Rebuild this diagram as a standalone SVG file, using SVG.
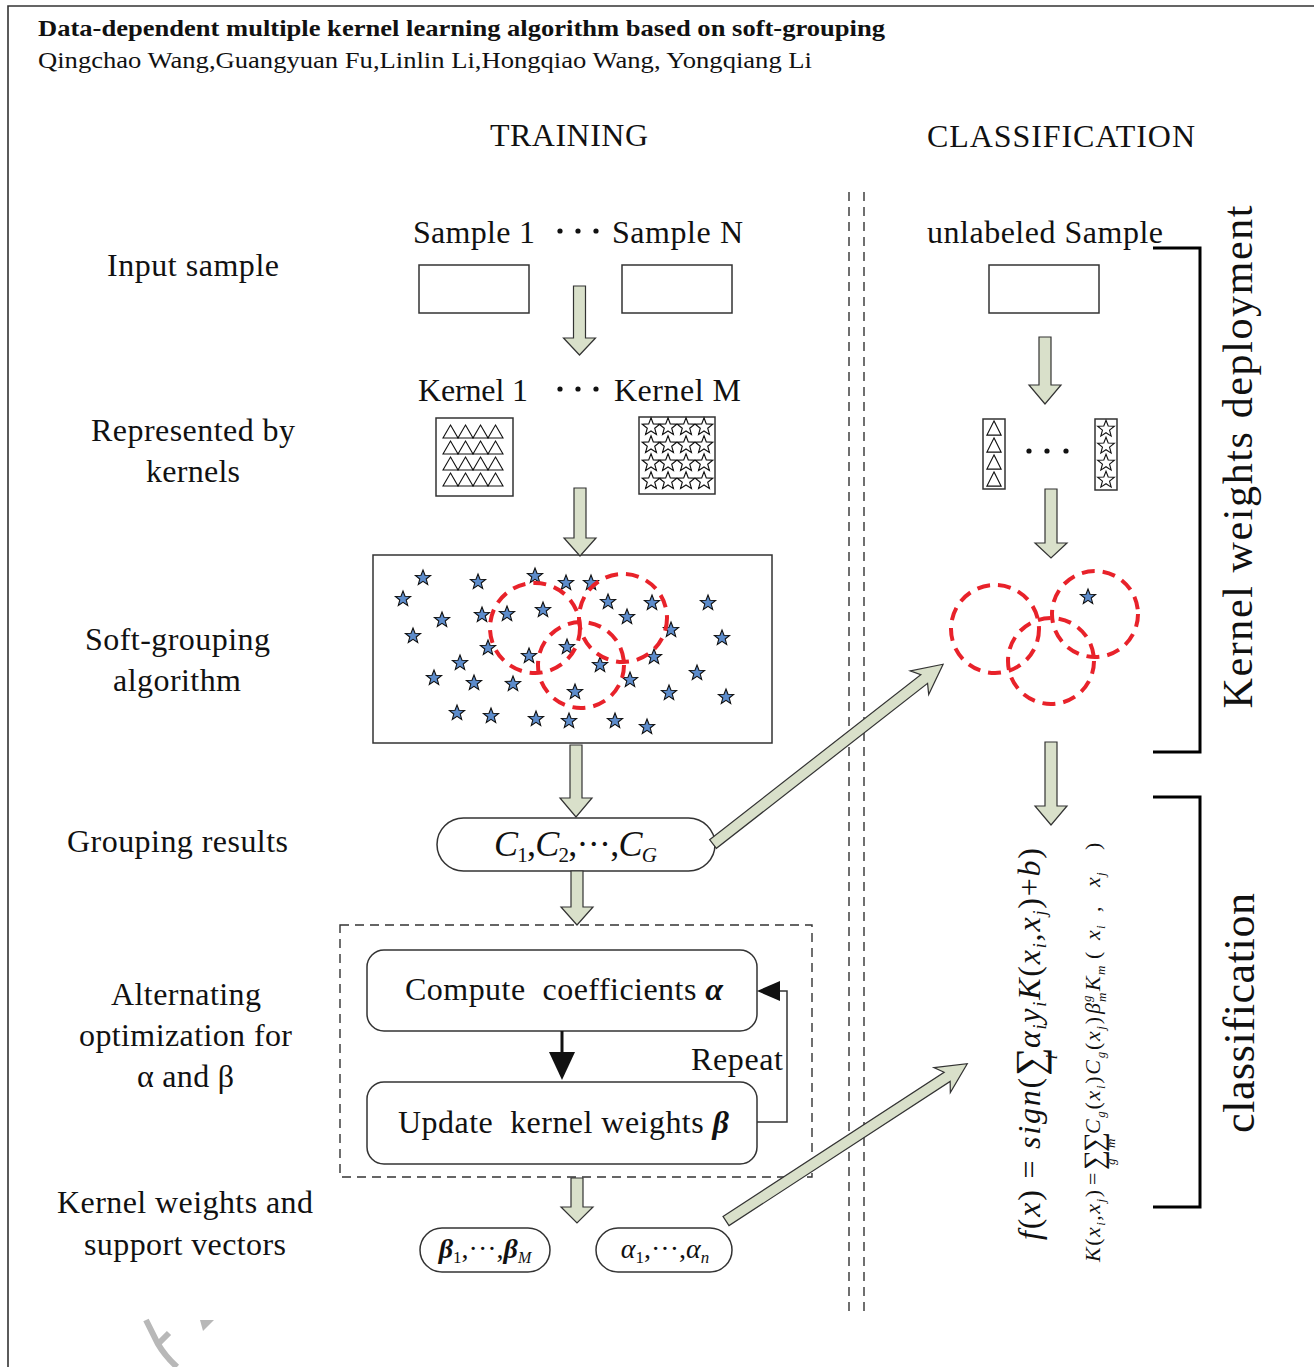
<svg xmlns="http://www.w3.org/2000/svg" xmlns:xlink="http://www.w3.org/1999/xlink" width="1315" height="1367" viewBox="0 0 1315 1367" font-family="'Liberation Serif', 'Times New Roman', Times, serif">
<style>
text{font-family:'Liberation Serif','Times New Roman',Times,serif;fill:#111;}
.lbl{font-size:32px;}
.box{fill:#fff;stroke:#333;stroke-width:1.5;}
.garrow{fill:#d9e0ca;stroke:#333;stroke-width:1.2;stroke-linejoin:miter;}
.dash{fill:none;stroke:#333;stroke-width:1.4;stroke-dasharray:9 6;}
.red{fill:none;stroke:#e8222a;stroke-width:4;stroke-dasharray:13 8;}
.bstar{fill:#5d8ccb;stroke:#111;stroke-width:1.1;}
.wstar{fill:#fff;stroke:#111;stroke-width:1;}
.tri{fill:#fff;stroke:#111;stroke-width:1.1;}
.brk{fill:none;stroke:#000;stroke-width:3;}
.it{font-style:italic;}
.bi{font-style:italic;font-weight:bold;}
.f2{font-size:22px;font-style:italic;}
.u2{font-size:22px;}
.s2{font-size:13px;font-style:italic;}
</style>
<defs>
<path id="star" d="M0,-8 L2,-2.75 L7.61,-2.47 L3.23,1.05 L4.7,6.47 L0,3.4 L-4.7,6.47 L-3.23,1.05 L-7.61,-2.47 L-2,-2.75 Z"/>
<path id="tri" d="M0,-6.5 L7.5,6.5 L-7.5,6.5 Z"/>
</defs>
<rect x="0" y="0" width="1315" height="1367" fill="#fff"/>
<!-- frame -->
<path d="M8,1367 L8,6 L1314,6" fill="none" stroke="#333" stroke-width="1.6"/>
<!-- header -->
<g id="title">
<text x="38" y="36" font-size="24" font-weight="bold" textLength="847" lengthAdjust="spacingAndGlyphs">Data-dependent multiple kernel learning algorithm based on soft-grouping</text>
<text x="38" y="68" font-size="23" textLength="774" lengthAdjust="spacingAndGlyphs">Qingchao Wang,Guangyuan Fu,Linlin Li,Hongqiao Wang, Yongqiang Li</text>
</g>
<g id="headings">
<text class="lbl" x="490" y="146" textLength="158">TRAINING</text>
<text class="lbl" x="927" y="147" textLength="268">CLASSIFICATION</text>
</g>
<!-- separator -->
<g id="separator">
<line class="dash" x1="849" y1="192" x2="849" y2="1315"/>
<line class="dash" x1="864" y1="192" x2="864" y2="1315"/>
</g>
<!-- left labels -->
<g id="left-labels">
<text class="lbl" x="107" y="276" textLength="172">Input sample</text>
<text class="lbl" x="91" y="441" textLength="204">Represented by</text>
<text class="lbl" x="146" y="482" textLength="94">kernels</text>
<text class="lbl" x="85" y="650" textLength="185">Soft-grouping</text>
<text class="lbl" x="113" y="691" textLength="128">algorithm</text>
<text class="lbl" x="67" y="852" textLength="221">Grouping results</text>
<text class="lbl" x="111" y="1005" textLength="150">Alternating</text>
<text class="lbl" x="79" y="1046" textLength="213">optimization for</text>
<text class="lbl" x="137" y="1087" textLength="97">α and β</text>
<text class="lbl" x="57" y="1213" textLength="256">Kernel weights and</text>
<text class="lbl" x="84" y="1255" textLength="202">support vectors</text>
</g>
<!-- training: samples -->
<g id="samples">
<text class="lbl" x="413" y="243" textLength="122">Sample 1</text>
<text class="lbl" x="612" y="243" textLength="131">Sample N</text>
<circle cx="560" cy="231" r="2.6" fill="#111"/><circle cx="578" cy="231" r="2.6" fill="#111"/><circle cx="596" cy="231" r="2.6" fill="#111"/>
<rect class="box" x="419" y="265" width="110" height="48"/>
<rect class="box" x="622" y="265" width="110" height="48"/>
</g>
<g id="kernels">
<text class="lbl" x="418" y="401" textLength="110">Kernel 1</text>
<text class="lbl" x="614" y="401" textLength="127">Kernel M</text>
<circle cx="560" cy="389" r="2.6" fill="#111"/><circle cx="578" cy="389" r="2.6" fill="#111"/><circle cx="596" cy="389" r="2.6" fill="#111"/>
<rect class="box" x="436" y="418" width="77" height="78"/>
<g class="tri">
<use xlink:href="#tri" x="450.5" y="431.5"/><use xlink:href="#tri" x="465.5" y="431.5"/><use xlink:href="#tri" x="480.5" y="431.5"/><use xlink:href="#tri" x="495.5" y="431.5"/>
<use xlink:href="#tri" x="450.5" y="447.5"/><use xlink:href="#tri" x="465.5" y="447.5"/><use xlink:href="#tri" x="480.5" y="447.5"/><use xlink:href="#tri" x="495.5" y="447.5"/>
<use xlink:href="#tri" x="450.5" y="463.5"/><use xlink:href="#tri" x="465.5" y="463.5"/><use xlink:href="#tri" x="480.5" y="463.5"/><use xlink:href="#tri" x="495.5" y="463.5"/>
<use xlink:href="#tri" x="450.5" y="479.5"/><use xlink:href="#tri" x="465.5" y="479.5"/><use xlink:href="#tri" x="480.5" y="479.5"/><use xlink:href="#tri" x="495.5" y="479.5"/>
</g>
<rect class="box" x="639" y="417" width="76" height="77"/>
<g class="wstar">
<use xlink:href="#star" transform="translate(651,427) scale(1.15)"/><use xlink:href="#star" transform="translate(668,427) scale(1.15)"/><use xlink:href="#star" transform="translate(686,427) scale(1.15)"/><use xlink:href="#star" transform="translate(704,427) scale(1.15)"/>
<use xlink:href="#star" transform="translate(651,445) scale(1.15)"/><use xlink:href="#star" transform="translate(668,445) scale(1.15)"/><use xlink:href="#star" transform="translate(686,445) scale(1.15)"/><use xlink:href="#star" transform="translate(704,445) scale(1.15)"/>
<use xlink:href="#star" transform="translate(651,463) scale(1.15)"/><use xlink:href="#star" transform="translate(668,463) scale(1.15)"/><use xlink:href="#star" transform="translate(686,463) scale(1.15)"/><use xlink:href="#star" transform="translate(704,463) scale(1.15)"/>
<use xlink:href="#star" transform="translate(651,481) scale(1.15)"/><use xlink:href="#star" transform="translate(668,481) scale(1.15)"/><use xlink:href="#star" transform="translate(686,481) scale(1.15)"/><use xlink:href="#star" transform="translate(704,481) scale(1.15)"/>
</g>
</g>
<!-- scatter -->
<g id="soft-grouping">
<rect class="box" x="373" y="555" width="399" height="188"/>
<g class="bstar">
<use xlink:href="#star" x="423" y="578"/><use xlink:href="#star" x="478" y="582"/><use xlink:href="#star" x="535" y="576"/><use xlink:href="#star" x="566" y="583"/><use xlink:href="#star" x="591" y="583"/>
<use xlink:href="#star" x="403" y="599"/><use xlink:href="#star" x="442" y="620"/><use xlink:href="#star" x="482" y="615"/><use xlink:href="#star" x="507" y="614"/><use xlink:href="#star" x="543" y="610"/>
<use xlink:href="#star" x="608" y="602"/><use xlink:href="#star" x="627" y="617"/><use xlink:href="#star" x="652" y="603"/><use xlink:href="#star" x="708" y="603"/><use xlink:href="#star" x="413" y="636"/>
<use xlink:href="#star" x="488" y="648"/><use xlink:href="#star" x="529" y="656"/><use xlink:href="#star" x="567" y="647"/><use xlink:href="#star" x="600" y="665"/><use xlink:href="#star" x="654" y="657"/>
<use xlink:href="#star" x="671" y="630"/><use xlink:href="#star" x="722" y="638"/><use xlink:href="#star" x="460" y="663"/><use xlink:href="#star" x="434" y="678"/><use xlink:href="#star" x="474" y="683"/>
<use xlink:href="#star" x="513" y="684"/><use xlink:href="#star" x="575" y="692"/><use xlink:href="#star" x="630" y="680"/><use xlink:href="#star" x="669" y="693"/><use xlink:href="#star" x="697" y="673"/>
<use xlink:href="#star" x="726" y="697"/><use xlink:href="#star" x="457" y="713"/><use xlink:href="#star" x="491" y="716"/><use xlink:href="#star" x="536" y="719"/><use xlink:href="#star" x="569" y="721"/>
<use xlink:href="#star" x="615" y="721"/><use xlink:href="#star" x="647" y="727"/>
</g>
<circle class="red" cx="535" cy="628" r="45"/>
<circle class="red" cx="623" cy="618" r="44"/>
<circle class="red" cx="581" cy="665" r="43"/>
</g>
<!-- grouping results -->
<g id="grouping-results">
<rect class="box" x="437" y="818" width="278" height="53" rx="26.5"/>
<text x="494" y="856" font-size="36" textLength="163"><tspan class="it">C</tspan><tspan font-size="21" dy="6">1</tspan><tspan dy="-6">,</tspan><tspan class="it">C</tspan><tspan font-size="21" dy="6">2</tspan><tspan dy="-6">,···,</tspan><tspan class="it">C</tspan><tspan class="it" font-size="21" dy="6">G</tspan></text>
</g>
<!-- alternating optimization -->
<g id="alternating">
<rect class="dash" x="340" y="925" width="472" height="252"/>
<g id="compute">
<rect class="box" x="367" y="950" width="390" height="81" rx="17"/>
<text class="lbl" x="405" y="1000" textLength="318">Compute&#160; coefficients <tspan class="bi">α</tspan></text>
</g>
<g id="update">
<rect class="box" x="367" y="1082" width="390" height="82" rx="17"/>
<text class="lbl" x="398" y="1133" textLength="331">Update&#160; kernel weights <tspan class="bi">β</tspan></text>
</g>
<text class="lbl" x="691" y="1070" textLength="92">Repeat</text>
</g>
<!-- outputs -->
<g id="beta-pill">
<rect class="box" x="420" y="1228" width="130" height="44" rx="22"/>
<text x="485" y="1258" font-size="28" text-anchor="middle"><tspan class="bi">β</tspan><tspan font-size="17" dy="5">1</tspan><tspan dy="-5">,···,</tspan><tspan class="bi">β</tspan><tspan class="it" font-size="16" dy="5">M</tspan></text>
</g>
<g id="alpha-pill">
<rect class="box" x="596" y="1228" width="136" height="44" rx="22"/>
<text x="665" y="1258" font-size="28" text-anchor="middle"><tspan class="it">α</tspan><tspan font-size="17" dy="5">1</tspan><tspan dy="-5">,···,</tspan><tspan class="it">α</tspan><tspan class="it" font-size="17" dy="5">n</tspan></text>
</g>
<!-- classification side -->
<g id="unlabeled">
<text class="lbl" x="927" y="243" textLength="236">unlabeled Sample</text>
<rect class="box" x="989" y="265" width="110" height="48"/>
</g>
<g id="kernel-strips">
<rect class="box" x="983" y="419" width="22" height="70"/>
<g class="tri">
<use xlink:href="#tri" transform="translate(994,428) scale(0.95,1.1)"/><use xlink:href="#tri" transform="translate(994,445) scale(0.95,1.1)"/><use xlink:href="#tri" transform="translate(994,462) scale(0.95,1.1)"/><use xlink:href="#tri" transform="translate(994,479) scale(0.95,1.1)"/>
</g>
<circle cx="1029" cy="451" r="2.6" fill="#111"/><circle cx="1047" cy="451" r="2.6" fill="#111"/><circle cx="1066" cy="451" r="2.6" fill="#111"/>
<rect class="box" x="1095" y="419" width="22" height="71"/>
<g class="wstar">
<use xlink:href="#star" transform="translate(1106,429) scale(1.1)"/><use xlink:href="#star" transform="translate(1106,446) scale(1.1)"/><use xlink:href="#star" transform="translate(1106,463) scale(1.1)"/><use xlink:href="#star" transform="translate(1106,480) scale(1.1)"/>
</g>
</g>
<g id="groups-right">
<circle class="red" cx="995" cy="629" r="44"/>
<circle class="red" cx="1095" cy="614" r="43"/>
<circle class="red" cx="1051" cy="661" r="43"/>
<use class="bstar" xlink:href="#star" x="1088" y="597"/>
</g>
<g id="formulas">
<text transform="translate(1040,1240) rotate(-90)" font-size="32" textLength="392"><tspan class="it">f</tspan>(<tspan class="it">x</tspan>) = <tspan class="it">sign</tspan>(<tspan font-size="40" dy="3">∑</tspan><tspan class="it" font-size="17" dx="-14" dy="14">i</tspan><tspan class="it" dx="5" dy="-17">α</tspan><tspan class="it" font-size="18" dy="6">i</tspan><tspan class="it" dy="-6">y</tspan><tspan class="it" font-size="18" dy="6">i</tspan><tspan class="it" dy="-6">K</tspan>(<tspan class="it">x</tspan><tspan class="it" font-size="18" dy="6">i</tspan><tspan dy="-6">,</tspan><tspan class="it">x</tspan><tspan class="it" font-size="18" dy="6">j</tspan><tspan dy="-6">)+</tspan><tspan class="it">b</tspan>)</text>
<g transform="translate(1100,1262) rotate(-90)">
<text x="0" y="0" class="f2" textLength="72">K<tspan font-style="normal">(</tspan>x<tspan class="s2" dy="5">i</tspan><tspan font-style="normal" dy="-5">,</tspan>x<tspan class="s2" dy="5">j</tspan><tspan font-style="normal" dy="-5">)</tspan></text>
<text x="77" y="0" class="u2">=</text>
<text x="92" y="3" font-size="28">∑</text>
<text x="110" y="3" font-size="28">∑</text>
<text x="97" y="15" class="s2">g</text>
<text x="114" y="15" class="s2">m</text>
<text x="128" y="0" class="f2" textLength="117">C<tspan class="s2" dy="5">g</tspan><tspan font-style="normal" dy="-5">(</tspan>x<tspan class="s2" dy="5">i</tspan><tspan font-style="normal" dy="-5">)</tspan>C<tspan class="s2" dy="5">g</tspan><tspan font-style="normal" dy="-5">(</tspan>x<tspan class="s2" dy="5">j</tspan><tspan font-style="normal" dy="-5">)</tspan></text>
<text x="248" y="0" class="f2">β</text>
<text x="260" y="-9" class="s2">g</text>
<text x="260" y="6" class="s2">m</text>
<text x="271" y="0" class="f2">K</text>
<text x="287" y="5" class="s2">m</text>
<text x="303" y="0" class="u2">(</text>
<text x="322" y="0" class="f2">x</text>
<text x="333" y="5" class="s2">i</text>
<text x="350" y="0" class="u2">,</text>
<text x="375" y="0" class="f2">x</text>
<text x="386" y="5" class="s2">j</text>
<text x="412" y="0" class="u2">)</text>
</g>
</g>
<g id="brackets">
<path class="brk" d="M1153,248 L1200,248 L1200,752 L1153,752"/>
<path class="brk" d="M1153,797 L1200,797 L1200,1207 L1153,1207"/>
<text transform="translate(1252,457) rotate(-90)" font-size="42" text-anchor="middle" textLength="503">Kernel weights deployment</text>
<text transform="translate(1254,1013) rotate(-90)" font-size="44" text-anchor="middle" textLength="240">classification</text>
</g>
<!-- connectors -->
<g id="connectors">
<path class="garrow" d="M573.5,286 L585.5,286 L585.5,338 L595.5,338 L579.5,355 L563.5,338 L573.5,338 Z"/>
<path class="garrow" d="M574,488 L586,488 L586,538 L596,538 L580,556 L564,538 L574,538 Z"/>
<path class="garrow" d="M570,745 L582,745 L582,798 L592,798 L576,817 L560,798 L570,798 Z"/>
<path class="garrow" d="M571,871 L583,871 L583,907 L593,907 L577,925 L561,907 L571,907 Z"/>
<path class="garrow" d="M571,1178 L583,1178 L583,1207 L593,1207 L577,1223 L561,1207 L571,1207 Z"/>
<path class="garrow" d="M1039,337 L1051,337 L1051,385 L1061,385 L1045,404 L1029,385 L1039,385 Z"/>
<path class="garrow" d="M1045,489 L1057,489 L1057,543 L1067,543 L1051,558 L1035,543 L1045,543 Z"/>
<path class="garrow" d="M1045,742 L1057,742 L1057,806 L1067,806 L1051,825 L1035,806 L1045,806 Z"/>
<path class="garrow" transform="translate(713,844) rotate(-38)" d="M0,-5.5 L268,-5.5 L262,-15 L292,0 L262,15 L268,5.5 L0,5.5 Z"/>
<path class="garrow" transform="translate(726,1221) rotate(-33.1)" d="M0,-5.5 L264,-5.5 L258,-15 L288,0 L258,15 L264,5.5 L0,5.5 Z"/>
<line x1="562" y1="1031" x2="562" y2="1056" stroke="#111" stroke-width="3"/>
<polygon points="549,1052 575,1052 562,1080" fill="#111"/>
<polyline points="757,1122 787,1122 787,991 778,991" fill="none" stroke="#333" stroke-width="1.5"/>
<polygon points="757,991 780,981 780,1001" fill="#111"/>
</g>
<!-- watermark fragment -->
<g id="watermark" fill="none" stroke="#b8b8b8" stroke-width="6" stroke-linecap="butt">
<path d="M146,1320 L158,1344 Q165,1356 177,1367"/>
<path d="M158,1344 L169,1333"/>
<polygon points="200,1320 214,1320 203,1331" fill="#b8b8b8" stroke="none"/>
</g>
</svg>
